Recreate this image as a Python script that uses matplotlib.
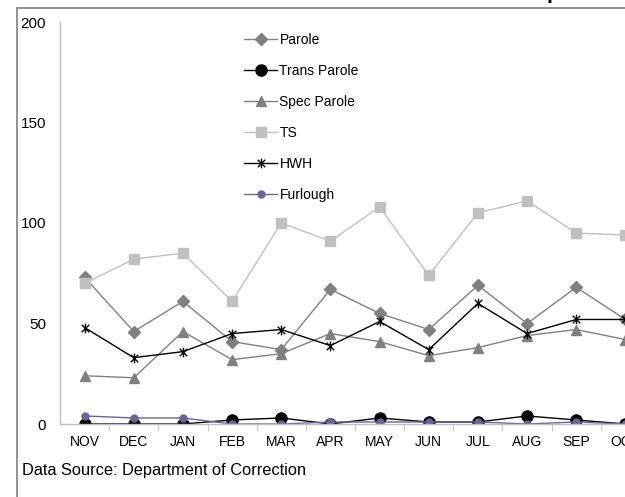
import matplotlib
matplotlib.use("Agg")
import matplotlib.pyplot as plt
from matplotlib.lines import Line2D
from matplotlib.path import Path

plt.rcParams['font.family'] = ['Liberation Sans', 'DejaVu Sans']

months = ["NOV", "DEC", "JAN", "FEB", "MAR", "APR", "MAY", "JUN", "JUL", "AUG", "SEP", "OCT"]
parole = [73, 46, 61, 41, 37, 67, 55, 47, 69, 50, 68, 52]
trans_parole = [0, 0, 0, 2, 3, 0, 3, 1, 1, 4, 2, 0]
spec_parole = [24, 23, 46, 32, 35, 45, 41, 34, 38, 44, 47, 42]
ts = [70, 82, 85, 61, 100, 91, 108, 74, 105, 111, 95, 94]
hwh = [48, 33, 36, 45, 47, 39, 51, 37, 60, 45, 52, 52]
furlough = [4, 3, 3, 0, 0, 1, 1, 1, 1, 0, 1, 0]
yticks = [0, 50, 100, 150, 200]

# excel style star: x with a vertical bar
star = Path([(-1, -1), (1, 1), (-1, 1), (1, -1), (0, -1.3), (0, 1.3)],
            [Path.MOVETO, Path.LINETO, Path.MOVETO, Path.LINETO, Path.MOVETO, Path.LINETO])

fig = plt.figure(figsize=(6.25, 4.97), dpi=100)
ax = fig.add_axes([60 / 625, 73 / 497, 590 / 625, 402 / 497])

x = list(range(len(months)))
ax.plot(x, parole, color="#808080", lw=1, marker="D", ms=6, label="Parole")
ax.plot(x, trans_parole, color="black", lw=1, marker="o", ms=8, label="Trans Parole")
ax.plot(x, spec_parole, color="#808080", lw=1, marker="^", ms=7.5, label="Spec Parole")
ax.plot(x, ts, color="#C0C0C0", lw=1, marker="s", ms=7, label="TS")
ax.plot(x, hwh, color="black", lw=1, marker=star, ms=7, mew=1, label="HWH")
ax.plot(x, furlough, color="#666699", lw=1, marker="o", ms=5, label="Furlough")

ax.set_xlim(-0.5, 11.5)
ax.set_ylim(0, 200)
ax.set_yticks(yticks)
ax.set_xticks(x)
ax.set_xticklabels(months)
ax.set_xticks([i + 0.5 for i in x], minor=True)
ax.tick_params(axis="y", length=0, pad=10, labelsize=11)
ax.tick_params(axis="x", which="major", length=0, pad=8, labelsize=10)
ax.tick_params(axis="x", which="minor", length=5, color="#C0C0C0", direction="out")

for s in ["top", "right"]:
    ax.spines[s].set_visible(False)
for s in ["left", "bottom"]:
    ax.spines[s].set_color("#C0C0C0")
    ax.spines[s].set_linewidth(1)

ax.legend(loc="upper left", bbox_to_anchor=(244 / 625, 464 / 497), bbox_transform=fig.transFigure,
          frameon=False, fontsize=10, handlelength=2.4, handletextpad=0.15,
          labelspacing=1.22, borderaxespad=0, borderpad=0)

fig.text(22 / 625, 27 / 497, "Data Source: Department of Correction", fontsize=11.8, va="center")
fig.text(553 / 625, 1.003, "p", fontsize=15, fontweight="bold", ha="center", va="baseline")

# outer frame of the original chart area
fig.add_artist(Line2D([17 / 625, 17 / 625], [0, 489 / 497], color="#808080", lw=1.2,
                      transform=fig.transFigure))
fig.add_artist(Line2D([17 / 625, 1], [489 / 497, 489 / 497], color="#808080", lw=1.2,
                      transform=fig.transFigure))

fig.savefig("out.png", dpi=100)
